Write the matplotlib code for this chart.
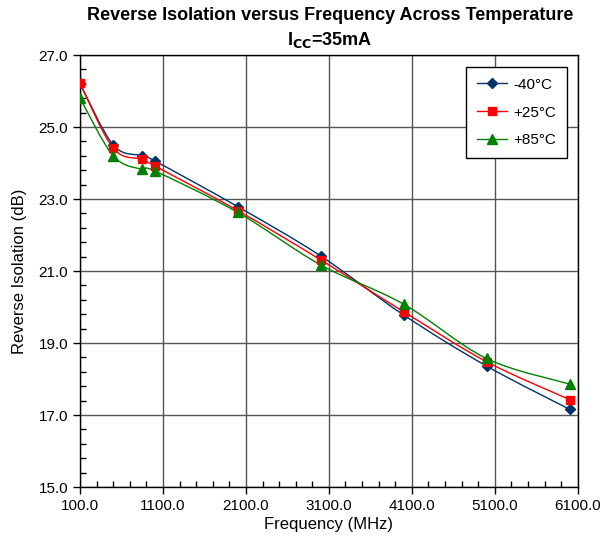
import numpy as np
import matplotlib
matplotlib.use('Agg')
import matplotlib.pyplot as plt
from matplotlib.path import Path
from matplotlib.patches import PathPatch
from matplotlib.ticker import FixedLocator, FormatStrFormatter

plt.rcParams['font.family'] = ['Liberation Sans', 'DejaVu Sans']

freq = [100, 500, 850, 1000, 2000, 3000, 4000, 5000, 6000]
iso_m40 = [26.21, 24.50, 24.20, 24.06, 22.79, 21.42, 19.78, 18.36, 17.16]
iso_p25 = [26.21, 24.41, 24.10, 23.92, 22.68, 21.31, 19.87, 18.48, 17.43]
iso_p85 = [25.80, 24.20, 23.82, 23.78, 22.63, 21.17, 20.08, 18.57, 17.86]

series = [
    ('-40°C', iso_m40, '#003366', 'D', 5),
    ('+25°C', iso_p25, '#FF0000', 's', 6),
    ('+85°C', iso_p85, '#008000', '^', 6.5),
]


def smooth_path(x, y):
    # Excel-style smoothed line: cubic bezier with catmull-rom tangents
    p = np.column_stack([x, y]).astype(float)
    n = len(p)
    verts = [p[0]]
    codes = [Path.MOVETO]
    for i in range(n - 1):
        p0 = p[i - 1] if i > 0 else p[i]
        p3 = p[i + 2] if i + 2 < n else p[i + 1]
        c1 = p[i] + (p[i + 1] - p0) / 6.0
        c2 = p[i + 1] - (p3 - p[i]) / 6.0
        verts += [c1, c2, p[i + 1]]
        codes += [Path.CURVE4] * 3
    return Path(verts, codes)


fig = plt.figure(figsize=(6.0, 5.43), dpi=100)
ax = fig.add_axes([0.1333, 0.1031, 0.8297, 0.7956])

for label, vals, col, mk, ms in series:
    ax.add_patch(PathPatch(smooth_path(freq, vals), facecolor='none',
                           edgecolor=col, lw=1.0, zorder=3))
    ax.plot(freq, vals, linestyle='none', marker=mk, color=col, ms=ms, zorder=4)
    ax.plot([], [], color=col, lw=1.0, marker=mk, ms=ms, label=label)

ax.set_xlim(100, 6100)
ax.set_ylim(15, 27)
ax.set_xticks(np.arange(100, 6101, 1000))
ax.set_yticks(np.arange(15, 27.01, 2))
ax.xaxis.set_minor_locator(FixedLocator(np.arange(100, 6101, 200)))
ax.yaxis.set_minor_locator(FixedLocator(np.arange(15, 27.01, 0.4)))
ax.xaxis.set_major_formatter(FormatStrFormatter('%.1f'))
ax.yaxis.set_major_formatter(FormatStrFormatter('%.1f'))
ax.tick_params(which='major', direction='out', length=5, width=1, labelsize=11, colors='black')
ax.tick_params(which='minor', direction='in', length=4, width=1)

ax.grid(True, which='major', color='#555555', linewidth=1.0)
ax.set_axisbelow(True)
for s in ax.spines.values():
    s.set_linewidth(1.0)
    s.set_color('black')

ax.set_xlabel('Frequency (MHz)', fontsize=12, labelpad=3)
ax.set_ylabel('Reverse Isolation (dB)', fontsize=12, labelpad=8)

fig.text(0.55, 0.972, 'Reverse Isolation versus Frequency Across Temperature',
         ha='center', va='center', fontsize=13, fontweight='bold')
fig.text(0.55, 0.926, r'I$_{\mathbf{CC}}$=35mA', ha='center', va='center',
         fontsize=13, fontweight='bold')

leg = ax.legend(loc='upper right', bbox_to_anchor=(0.978, 0.972), fontsize=11,
                frameon=True, fancybox=False, edgecolor='black', framealpha=1,
                labelspacing=0.9, handlelength=2.0, borderpad=0.7, handletextpad=0.4,
                borderaxespad=0)
leg.get_frame().set_linewidth(1.0)

fig.savefig('out.png', dpi=100)
